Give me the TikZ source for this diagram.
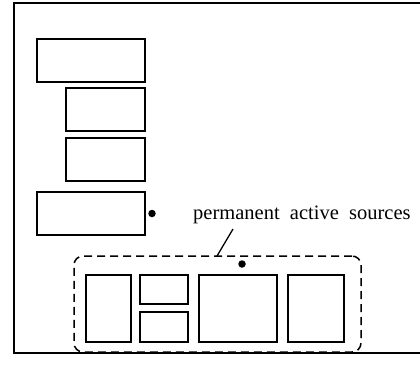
\documentclass[tikz,border=0pt]{standalone}
\usepackage{fontspec}
\setmainfont{Liberation Serif}
\usetikzlibrary{positioning,calc}
\tikzset{
  blk/.style  = { draw, line width=1.7pt, inner sep=0pt, outer sep=0pt },
  dot/.style  = { fill=black, circle, inner sep=0pt, minimum size=7.5pt },
  grp/.style  = { draw, line width=1.5pt, dash pattern=on 8pt off 5pt,
    rounded corners=9pt, inner sep=0pt },
  lbl/.style  = { font=\fontsize{20.5}{24}\selectfont, inner sep=0pt }
}

\begin{document}
\begin{tikzpicture}[x=1pt,y=-1pt]
  \useasboundingbox (0,0) rectangle (420,365);
  \clip (0,0) rectangle (420,365);
  % frame
  \draw[line width=2pt] (14,3) rectangle (426,353);

  % stack on the left
  \node[blk, anchor=north west, minimum width=108pt, minimum height=43pt] (s1) at (37,39) {};
  \node[blk, below=6pt of s1.south east, anchor=north east,
    minimum width=79pt, minimum height=43pt] (s2) {};
  \node[blk, below=7pt of s2.south east, anchor=north east,
    minimum width=79pt, minimum height=43pt] (s3) {};
  \node[blk, below=11pt of s3.south east, anchor=north east,
    minimum width=108pt, minimum height=43pt] (s4) {};
  \node[dot, right=7pt of s4.east, anchor=center] (d1) {};

  % permanent sources
  \node[grp, minimum width=287pt, minimum height=96pt] (g) at (217.5,304) {};
  \node[blk, anchor=north west, minimum width=45pt, minimum height=67pt] (p1) at (86,275) {};
  \node[blk, right=9pt of p1.north east, anchor=north west,
    minimum width=48pt, minimum height=29pt] (p2) {};
  \node[blk, right=9pt of p1.south east, anchor=south west,
    minimum width=48pt, minimum height=30pt] (p3) {};
  \node[blk, right=11pt of p2.north east, anchor=north west,
    minimum width=78pt, minimum height=67pt] (p4) {};
  \node[blk, right=11pt of p4.north east, anchor=north west,
    minimum width=56pt, minimum height=67pt] (p5) {};
  \node[dot] (d2) at (242,264) {};

  \node[lbl, anchor=base west] (txt) at (193,219) {permanent\ \ active\ \ sources};
  \coordinate (lt) at (233,229);
  \coordinate (lb) at (217,256);
  \draw[line width=1.3pt] (lt) -- (lb);
\end{tikzpicture}
\end{document}
